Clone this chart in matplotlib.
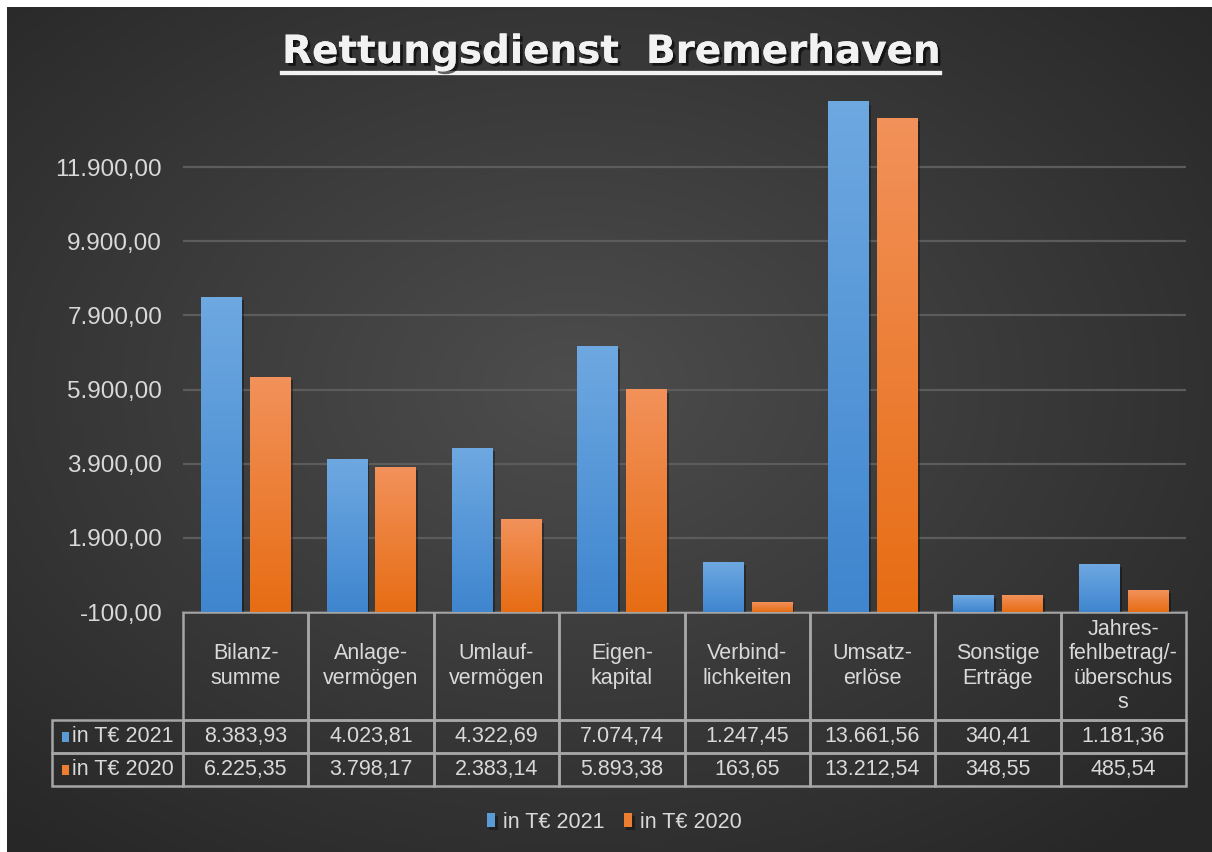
import numpy as np
import matplotlib
matplotlib.use("Agg")
import matplotlib.pyplot as plt
from matplotlib import patheffects
from matplotlib.colors import LinearSegmentedColormap
from matplotlib.lines import Line2D
from matplotlib.patches import Rectangle

plt.rcParams['font.family'] = ['Liberation Sans', 'DejaVu Sans']

# Data
categories = ["Bilanz-\nsumme", "Anlage-\nvermögen", "Umlauf-\nvermögen", "Eigen-\nkapital",
              "Verbind-\nlichkeiten", "Umsatz-\nerlöse", "Sonstige\nErträge",
              "Jahres-\nfehlbetrag/-\nüberschus\ns"]
series_names = ["in T€ 2021", "in T€ 2020"]
vals_2021 = [8383.93, 4023.81, 4322.69, 7074.74, 1247.45, 13661.56, 340.41, 1181.36]
vals_2020 = [6225.35, 3798.17, 2383.14, 5893.38, 163.65, 13212.54, 348.55, 485.54]
y_ticks = [-100, 1900, 3900, 5900, 7900, 9900, 11900]
y_min, y_max = -100, 13900

blue = "#5b9bd5"
orange = "#ed7d31"
txt = "#d9d9d9"
border = "#a6a6a6"


def de_fmt(v):
    s = f"{v:,.2f}"
    return s.replace(",", "X").replace(".", ",").replace("X", ".")


W, H = 1212, 852
fig = plt.figure(figsize=(W / 100, H / 100), dpi=100)
fig.patch.set_facecolor("white")

# dark radial background
bg = fig.add_axes([7 / W, 0, 1 - 7 / W, 1 - 7 / H])
bg.set_axis_off()
yy, xx = np.mgrid[0:1:300j, 0:1:400j]
r = np.sqrt(((xx - 0.47) / 0.75) ** 2 + ((yy - 0.45) / 0.75) ** 2)
r = np.clip(r / 0.95, 0, 1)
bg_cmap = LinearSegmentedColormap.from_list("bg", ["#4d4d4d", "#3a3a3a", "#272727"])
bg.imshow(r, cmap=bg_cmap, aspect="auto", extent=(0, 1, 0, 1), vmin=0, vmax=1)

# main plot area
left, right = 183 / W, 1186 / W
bottom, top = 1 - 612 / H, 1 - 93 / H
ax = fig.add_axes([left, bottom, right - left, top - bottom])
ax.patch.set_alpha(0)

x = np.arange(len(categories))
off, bw = 0.195, 0.32
shadow = [patheffects.withSimplePatchShadow(offset=(2, -2), shadow_rgbFace="black", alpha=0.35),
          patheffects.Normal()]
b1 = ax.bar(x - off, np.array(vals_2021) - y_min, bw, bottom=y_min, color=blue,
            label=series_names[0], zorder=2, path_effects=shadow)
b2 = ax.bar(x + off, np.array(vals_2020) - y_min, bw, bottom=y_min, color=orange,
            label=series_names[1], zorder=2, path_effects=shadow)

# gradient fill for bars
grad = np.linspace(1, 0, 64).reshape(-1, 1)
cm_blue = LinearSegmentedColormap.from_list("bl", ["#3f86cf", "#6ea8e1"])
cm_orange = LinearSegmentedColormap.from_list("or", ["#e76d14", "#f2915a"])
for bars, cm in ((b1, cm_blue), (b2, cm_orange)):
    for p in bars:
        x0, y0 = p.get_x(), p.get_y()
        ax.imshow(grad, cmap=cm, aspect="auto", zorder=2.1,
                  extent=(x0, x0 + p.get_width(), y0, y0 + p.get_height()))

ax.set_xlim(-0.5, len(categories) - 0.5)
ax.set_ylim(y_min, y_max)
ax.set_yticks(y_ticks)
ax.set_yticklabels([de_fmt(t) for t in y_ticks], color=txt, fontsize=17.5)
ax.set_xticks([])
ax.tick_params(axis="y", length=0, pad=15)
ax.grid(axis="y", color="#5c5c5c", linewidth=1.6, zorder=0)
for s in ax.spines.values():
    s.set_visible(False)

# data table
cell_text = [[de_fmt(v) for v in vals_2021], [de_fmt(v) for v in vals_2020]]
tab_h = (786 - 612) / (612 - 93)
tbl = ax.table(cellText=cell_text, rowLabels=series_names, colLabels=categories,
               cellLoc="center", rowLoc="left", colLoc="center",
               bbox=[0, -tab_h, 1, tab_h])
tbl._autoColumns = [c for c in tbl._autoColumns if c != -1]  # keep my own label width
tbl.auto_set_font_size(False)
tbl.set_fontsize(15.5)
hdr_h = (720 - 612) / (612 - 93)
row_h = (tab_h - hdr_h) / 2
lab_w = (183 - 52) / (1186 - 183)
for (rr, cc), cell in tbl.get_celld().items():
    cell.set_edgecolor(border)
    cell.set_linewidth(1.8)
    cell.set_facecolor("none")
    cell.get_text().set_color(txt)
    cell.set_height(hdr_h if rr == 0 else row_h)
    cell.set_width(lab_w if cc == -1 else 1 / len(categories))
    if cc == -1:
        cell.PAD = 0.155

# coloured squares in the row labels
sq_w, sq_h = 7 / (1186 - 183), 10 / (612 - 93)
for i, col in enumerate((blue, orange)):
    yc = -tab_h + row_h * (1.5 - i)
    ax.add_patch(Rectangle((-lab_w + 10 / 1003, yc - sq_h / 2), sq_w, sq_h, facecolor=col,
                           transform=ax.transAxes, clip_on=False, zorder=5))

# legend
fig.legend(handles=[b1, b2], labels=series_names, loc="center",
           bbox_to_anchor=(614 / W, 1 - 822 / H), ncol=2, frameon=False,
           fontsize=15.5, labelcolor=txt, handlelength=0.4, handleheight=0.6,
           handletextpad=0.35, columnspacing=0.9)

# title with underline
title = fig.text(611 / W, 1 - 52 / H, "Rettungsdienst  Bremerhaven", ha="center", va="center",
                 fontsize=28, fontweight="bold", color="#f2f2f2", family="DejaVu Sans",
                 path_effects=[patheffects.withSimplePatchShadow(offset=(2, -2), shadow_rgbFace="black", alpha=0.6),
                               patheffects.Normal()])
fig.canvas.draw()
bb = title.get_window_extent().transformed(fig.transFigure.inverted())
uy = 1 - 73 / H
fig.add_artist(Line2D([bb.x0, bb.x1], [uy, uy], transform=fig.transFigure, color="#f2f2f2",
                      linewidth=3, path_effects=[patheffects.withSimplePatchShadow(offset=(2, -2), shadow_rgbFace="black", alpha=0.6),
                                                  patheffects.Normal()]))

fig.savefig("out.png", dpi=100)
